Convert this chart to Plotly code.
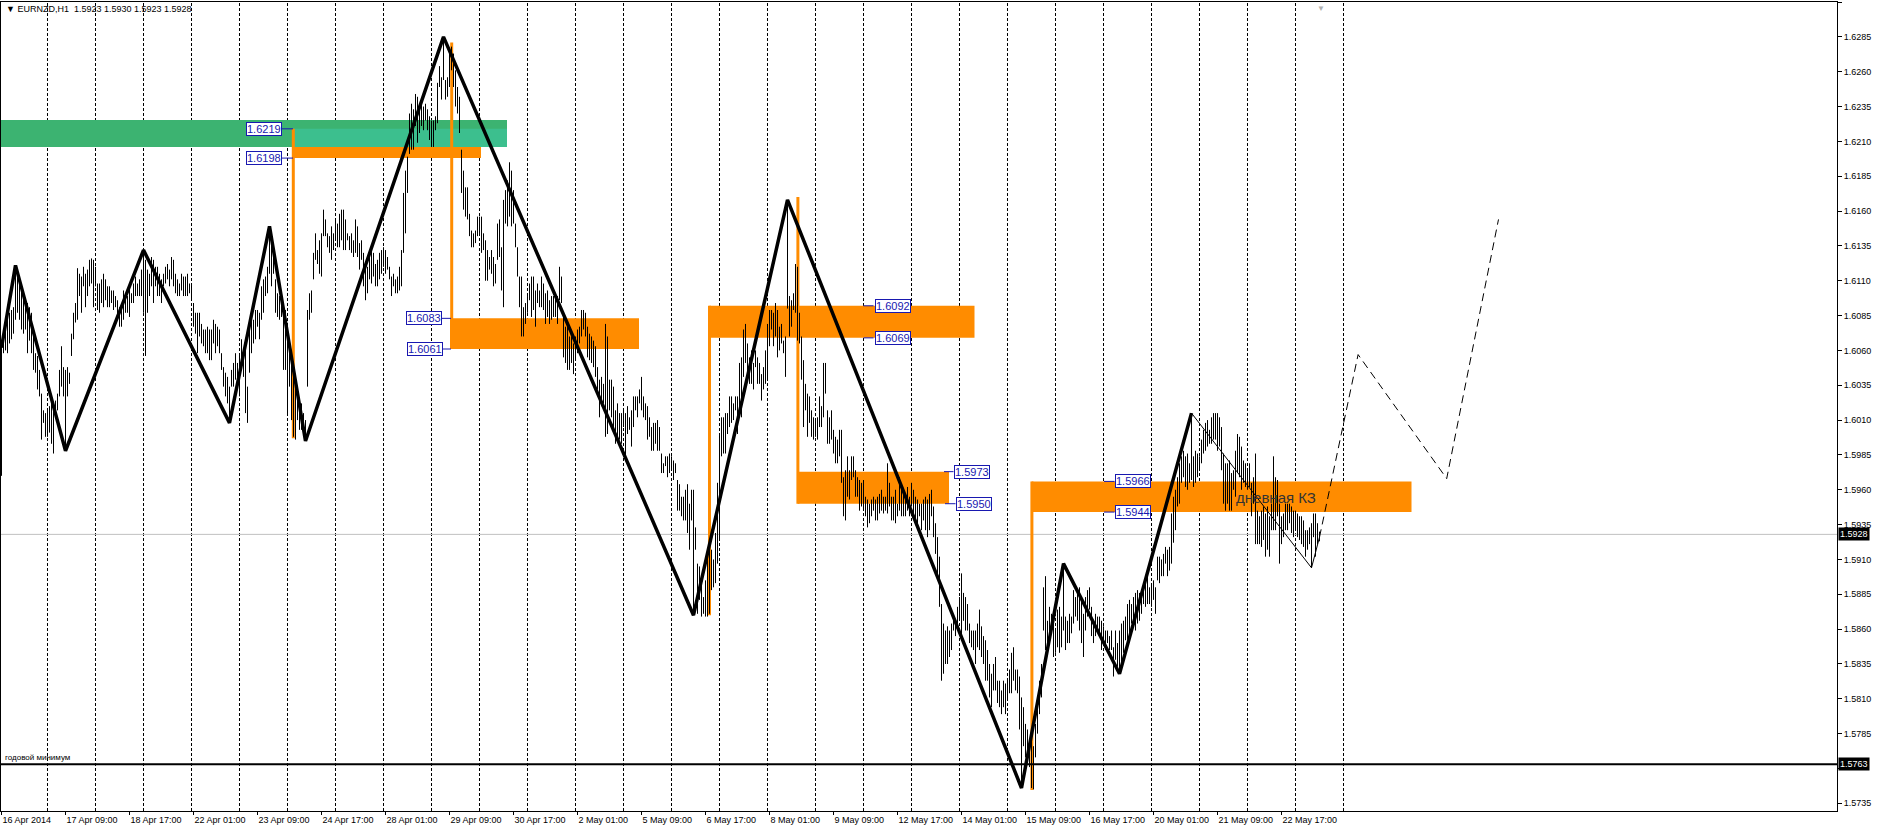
import plotly.graph_objects as go

# ---------------- data (prices in 1e-4 units) ----------------
highs = [
16066,16072,16077,16082,16087,16089,16091,16121,16115,16111,16106,16101,16096,16094,16091,16087,16070,16058,16056,16046,
16029,16017,16015,16017,16020,16022,16022,16024,16029,16046,16063,16048,16046,16048,16044,16072,16087,16094,16119,16115,
16113,16120,16115,16118,16125,16126,16125,16120,16108,16108,16111,16115,16111,16106,16106,16103,16103,16099,16096,16091,
16091,16103,16099,16099,16106,16101,16108,16113,16108,16111,16118,16132,16125,16118,16115,16127,16125,16120,16120,16115,
16111,16115,16120,16122,16118,16127,16125,16115,16111,16108,16115,16113,16113,16115,16108,16108,16094,16087,16087,16087,
16079,16075,16075,16077,16075,16075,16082,16079,16077,16075,16058,16048,16044,16041,16034,16046,16051,16058,16051,16056,
16068,16060,16063,16034,16077,16082,16082,16089,16089,16087,16106,16111,16113,16120,16149,16142,16130,16111,16101,16099,
16094,16091,16089,16068,16058,16051,16046,16034,16034,16022,16022,16015,16010,16089,16101,16103,16130,16144,16132,16139,
16144,16161,16154,16144,16142,16149,16144,16154,16151,16158,16161,16161,16154,16144,16142,16144,16139,16154,16149,16137,
16139,16130,16120,16120,16130,16132,16130,16122,16125,16130,16132,16134,16132,16127,16120,16113,16115,16111,16113,16120,
16132,16173,16189,16199,16230,16237,16233,16244,16242,16235,16237,16235,16237,16233,16228,16225,16225,16228,16252,16264,
16256,16285,16254,16256,16273,16278,16273,16261,16249,16242,16204,16189,16177,16177,16158,16146,16144,16146,16156,16156,
16156,16144,16139,16132,16127,16132,16127,16122,16151,16154,16134,16168,16175,16182,16195,16189,16175,16151,16134,16113,
16113,16091,16094,16099,16108,16113,16113,16103,16108,16103,16113,16108,16101,16103,16096,16099,16099,16101,16099,16120,
16113,16084,16077,16077,16070,16070,16065,16070,16075,16077,16089,16089,16087,16077,16072,16070,16067,16063,16048,16039,
16041,16036,16079,16070,16039,16039,16034,16017,16022,16015,16015,16017,16015,16020,16012,16017,16027,16027,16027,16032,
16041,16027,16022,16020,16012,16005,16008,16008,16010,16005,15986,15979,15984,15984,15986,15984,15981,15979,15967,15964,
15955,15955,15960,15964,15950,15960,15960,15933,15907,15905,15893,15883,15895,15917,15924,15917,15910,15929,15965,16000,
16012,16012,16015,16015,16027,16027,16022,16027,16027,16051,16055,16075,16079,16065,16055,16060,16051,16060,16055,16051,
16043,16048,16060,16079,16089,16089,16087,16094,16089,16077,16079,16067,16070,16168,16099,16096,16101,16122,16120,16087,
16070,16053,16036,16029,16027,16017,16012,16010,16012,16027,16020,16051,16051,16017,16012,16017,16003,15998,15996,16003,
16003,15969,15974,15984,15974,15984,15984,15974,15969,15967,15965,15967,15955,15953,15950,15953,15955,15953,15955,15957,
15960,15955,15955,15979,15965,15955,15955,15960,15950,15969,15962,15960,15955,15962,15955,15965,15960,15955,15953,15950,
15950,15953,15955,15953,15957,15960,15948,15936,15926,15912,15878,15864,15859,15862,15859,15864,15869,15864,15876,15883,
15900,15886,15883,15878,15864,15859,15859,15859,15864,15874,15862,15855,15852,15845,15835,15828,15835,15840,15823,15823,
15816,15823,15821,15823,15831,15843,15847,15831,15831,15826,15811,15804,15792,15788,15778,15780,15776,15792,15811,15823,
15835,15890,15898,15866,15876,15871,15869,15859,15874,15876,15869,15907,15869,15866,15871,15869,15888,15883,15886,15890,
15883,15871,15883,15888,15890,15876,15866,15871,15869,15869,15866,15862,15859,15859,15855,15859,15847,15859,15850,15859,
15864,15866,15869,15878,15881,15878,15883,15886,15888,15886,15888,15893,15895,15898,15890,15893,15895,15890,15912,15912,
15910,15914,15919,15917,15919,15943,15955,15960,15969,15979,15984,15988,15984,15986,15979,16015,15984,15988,15986,15984,
15996,16003,16008,16010,16003,16012,16015,16015,16015,16012,16005,15986,15979,15979,15981,15972,15974,15988,16000,15998,
15991,15981,15979,15974,15979,15965,15969,15986,15945,15941,15945,15948,15943,15948,15941,15950,15984,15969,15967,15950,
15941,15943,15950,15950,15950,15948,15945,15945,15943,15941,15941,15938,15931,15931,15933,15936,15943,15943,15936,15930,
]
lows = [
15970,16058,16060,16058,16065,16068,16072,16082,16087,16082,16075,16072,16075,16058,16067,16058,16046,16044,16032,16027,
15996,16008,15998,15998,16001,15993,15986,16012,16017,16027,16034,16027,15988,16027,16036,16056,16068,16080,16082,16099,
16087,16106,16091,16099,16106,16108,16091,16106,16089,16087,16094,16091,16096,16091,16091,16094,16089,16091,16084,16077,
16077,16082,16087,16087,16084,16094,16094,16099,16099,16099,16099,16087,16056,16087,16099,16106,16094,16106,16099,16099,
16094,16106,16108,16111,16106,16111,16106,16101,16099,16099,16103,16099,16099,16099,16101,16096,16077,16072,16058,16070,
16065,16063,16058,16058,16053,16053,16065,16058,16063,16058,16046,16034,16027,16022,16008,16034,16034,16039,16034,16027,
16046,16041,16015,16008,16044,16058,16065,16068,16077,16068,16082,16087,16099,16101,16115,16106,16115,16087,16084,16082,
16084,16046,16046,16015,16034,16010,15998,15996,16010,16003,16003,15998,15995,16034,16082,16087,16111,16125,16122,16115,
16113,16142,16142,16134,16130,16125,16132,16139,16134,16134,16139,16132,16132,16139,16132,16130,16127,16130,16127,16118,
16125,16106,16096,16101,16111,16108,16113,16106,16106,16111,16115,16120,16115,16118,16111,16099,16106,16101,16101,16103,
16106,16130,16144,16173,16201,16204,16204,16221,16209,16216,16221,16218,16225,16218,16211,16206,16206,16218,16223,16249,
16240,16254,16240,16242,16249,16261,16249,16235,16230,16216,16173,16161,16156,16154,16142,16134,16134,16137,16142,16144,
16130,16132,16110,16110,16118,16115,16106,16108,16125,16127,16103,16091,16151,16149,16156,16149,16151,16134,16113,16091,
16070,16070,16079,16087,16096,16084,16089,16077,16094,16091,16091,16089,16079,16084,16079,16082,16084,16084,16079,16096,
16094,16055,16051,16046,16046,16051,16043,16053,16058,16065,16070,16075,16070,16055,16053,16051,16048,16041,16032,16012,
16020,16022,15998,16000,16017,16012,16003,15993,15998,15996,15993,16005,15984,16000,16003,15991,16005,16017,16012,16022,
16017,16012,16010,15996,15998,15988,15988,15993,15988,15988,15972,15972,15977,15969,15972,15974,15967,15972,15945,15945,
15941,15938,15938,15929,15917,15938,15870,15917,15871,15881,15869,15871,15869,15869,15871,15888,15890,15893,15907,15924,
15984,15986,15986,16000,16005,16008,16010,16017,16000,16012,16012,16041,16051,16041,16036,16036,16032,16048,16036,16036,
16024,16032,16036,16039,16063,16075,16063,16070,16055,16060,16065,16058,16041,16090,16070,16077,16089,16087,16067,16065,
16039,16005,16017,15998,16008,15998,15996,15998,15996,16005,16005,16012,16029,15993,15993,15996,15986,15979,15979,15984,
15965,15941,15938,15955,15953,15967,15969,15955,15955,15945,15948,15945,15941,15933,15936,15941,15945,15938,15938,15943,
15945,15943,15945,15943,15948,15938,15938,15936,15941,15945,15941,15941,15941,15945,15941,15948,15941,15936,15936,15941,
15931,15938,15931,15926,15931,15941,15926,15914,15898,15876,15823,15828,15835,15835,15840,15845,15859,15855,15859,15866,
15852,15866,15859,15859,15850,15847,15845,15835,15847,15845,15840,15835,15823,15823,15811,15804,15816,15816,15807,15804,
15799,15804,15799,15809,15814,15814,15823,15816,15814,15788,15746,15776,15768,15764,15761,15746,15745,15768,15785,15799,
15811,15859,15845,15845,15855,15859,15840,15843,15847,15843,15847,15859,15845,15850,15850,15857,15864,15869,15866,15859,
15850,15840,15859,15869,15874,15855,15850,15855,15859,15855,15845,15850,15845,15850,15845,15845,15826,15838,15833,15828,
15835,15843,15852,15852,15855,15864,15864,15859,15864,15866,15871,15878,15876,15878,15878,15876,15881,15871,15895,15893,
15898,15898,15907,15898,15902,15907,15922,15931,15948,15950,15965,15969,15962,15960,15965,15967,15962,15965,15969,15974,
15979,15986,15988,15991,15993,15993,15996,15996,15988,15991,15974,15950,15945,15950,15945,15945,15960,15955,15972,15969,
15960,15965,15962,15960,15962,15941,15950,15921,15921,15921,15919,15924,15912,15917,15912,15931,15931,15931,15941,15907,
15921,15926,15931,15931,15936,15929,15926,15931,15926,15924,15921,15919,15912,15917,15921,15904,15926,15912,15921,15923,
]

# ZigZag vertices (bar index, price)
zz_x = [0, 7, 32, 71, 114, 134, 152, 221, 346, 393, 510, 531, 559, 595]
zz_y = [1.6062, 1.6121, 1.5988, 1.6132, 1.6008, 1.6149, 1.5995, 1.6285, 1.5870, 1.6168, 1.5746, 1.5907, 1.5828, 1.6015]
thin_x = [595, 655, 659]
thin_y = [1.6015, 1.5904, 1.5926]
proj_x = [659, 678.3, 722.6, 748.5]
proj_y = [1.5926, 1.6057, 1.5968, 1.6154]

# zones: (x0, x1, price low, price high)
green_zone = (-1, 252.75, 1.62060, 1.62253)
teal_zone = (145.75, 252.75, 1.62060, 1.6219)
orange_zones = [
    (145.75, 239.75, 1.6198, 1.6206),
    (224.25, 318.75, 1.6061, 1.6083),
    (353.9, 486.5, 1.6069, 1.6092),
    (398.1, 473.75, 1.5950, 1.5973),
    (515.1, 705.0, 1.5944, 1.5966),
]
# orange vertical lines: (x, price top, price bottom)
orange_vlines = [
    (145.9, 1.6219, 1.5997),
    (225.1, 1.6281, 1.6061),
    (354.0, 1.6092, 1.5870),
    (398.2, 1.6170, 1.5950),
    (515.2, 1.5966, 1.57446),
]
# price labels: (text, price, label center bar, line x0, line x1)
price_labels = [
    ("1.6219", 1.6219, 131, 140.25, 145.75),
    ("1.6198", 1.6198, 131, 140.25, 145.75),
    ("1.6083", 1.6083, 211, 219.75, 224.75),
    ("1.6061", 1.6061, 211.5, 220.25, 224.75),
    ("1.6092", 1.6092, 445.5, 431.0, 436.0),
    ("1.6069", 1.6069, 445.5, 431.0, 436.0),
    ("1.5973", 1.5973, 485, 471.25, 476.0),
    ("1.5950", 1.5950, 486, 471.75, 477.0),
    ("1.5966", 1.5966, 565.5, 551.25, 556.5),
    ("1.5944", 1.5944, 565.5, 551.25, 556.5),
]

x_tick_pos = list(range(0, 641, 32))
x_tick_text = ["16 Apr 2014", "17 Apr 09:00", "18 Apr 17:00", "22 Apr 01:00", "23 Apr 09:00",
               "24 Apr 17:00", "28 Apr 01:00", "29 Apr 09:00", "30 Apr 17:00", "2 May 01:00",
               "5 May 09:00", "6 May 17:00", "8 May 01:00", "9 May 09:00", "12 May 17:00",
               "14 May 01:00", "15 May 09:00", "16 May 17:00", "20 May 01:00", "21 May 09:00",
               "22 May 17:00"]
separator_bars = [23 + 24 * k for k in range(28)]
y_ticks = [round(1.5735 + 0.0025 * k, 4) for k in range(24)]

last_price = 1.5928
year_low = 1.5763
title_text = "▼ EURNZD,H1  1.5923 1.5930 1.5923 1.5928"

# ---------------- figure ----------------
FONT = "Liberation Sans, Arial, sans-serif"
ORANGE = "#FF8C00"
BLUE = "#1818B0"

bx, by = [], []
for i, (h, l) in enumerate(zip(highs, lows)):
    bx += [i, i, None]
    by += [l / 10000.0, h / 10000.0, None]

fig = go.Figure()
fig.add_trace(go.Scatter(x=bx, y=by, mode="lines", line=dict(color="black", width=1),
                         hoverinfo="skip", showlegend=False))
fig.add_trace(go.Scatter(x=zz_x, y=zz_y, mode="lines", line=dict(color="black", width=3.5),
                         hoverinfo="skip", showlegend=False))
fig.add_trace(go.Scatter(x=thin_x, y=thin_y, mode="lines", line=dict(color="black", width=1),
                         hoverinfo="skip", showlegend=False))
fig.add_trace(go.Scatter(x=proj_x, y=proj_y, mode="lines",
                         line=dict(color="black", width=1, dash="8px,5px"),
                         hoverinfo="skip", showlegend=False))

shapes = []
x0, x1, p0, p1 = green_zone
shapes.append(dict(type="rect", xref="x", yref="y", x0=x0, x1=x1, y0=p0, y1=p1,
                   fillcolor="#3CB371", line=dict(width=0), layer="below"))
x0, x1, p0, p1 = teal_zone
shapes.append(dict(type="rect", xref="x", yref="y", x0=x0, x1=x1, y0=p0, y1=p1,
                   fillcolor="#3CBF8E", line=dict(width=0), layer="below"))
for (x0, x1, p0, p1) in orange_zones:
    shapes.append(dict(type="rect", xref="x", yref="y", x0=x0, x1=x1, y0=p0, y1=p1,
                       fillcolor=ORANGE, line=dict(width=0), layer="below"))
for (xv, pt, pb) in orange_vlines:
    shapes.append(dict(type="line", xref="x", yref="y", x0=xv, x1=xv, y0=pb, y1=pt,
                       line=dict(color=ORANGE, width=3), layer="below"))
for xs in separator_bars:
    shapes.append(dict(type="line", xref="x", yref="paper", x0=xs, x1=xs, y0=0, y1=1,
                       line=dict(color="black", width=1, dash="3px,2px"), layer="below"))
shapes.append(dict(type="line", xref="paper", yref="y", x0=0, x1=1, y0=last_price, y1=last_price,
                   line=dict(color="#C0C0C0", width=1), layer="below"))
shapes.append(dict(type="line", xref="paper", yref="y", x0=0, x1=1, y0=year_low, y1=year_low,
                   line=dict(color="black", width=2), layer="above"))
for (txt, p, cx, lx0, lx1) in price_labels:
    shapes.append(dict(type="line", xref="x", yref="y", x0=lx0, x1=lx1, y0=p, y1=p,
                       line=dict(color=BLUE, width=1), layer="above"))

annotations = []
for (txt, p, cx, lx0, lx1) in price_labels:
    annotations.append(dict(x=cx, y=p, xref="x", yref="y", text=txt, showarrow=False,
                            font=dict(family=FONT, size=11, color=BLUE),
                            bgcolor="white", bordercolor=BLUE, borderwidth=1, borderpad=0))
annotations.append(dict(x=0, y=1, xref="paper", yref="paper", xanchor="left", yanchor="top",
                        xshift=3, yshift=0, text=title_text, showarrow=False,
                        font=dict(family=FONT, size=9, color="black")))
annotations.append(dict(x=0, y=year_low, xref="paper", yref="y", xanchor="left", yanchor="bottom",
                        xshift=2, yshift=0, text="годовой минимум", showarrow=False,
                        font=dict(family=FONT, size=8, color="black")))
annotations.append(dict(x=637, y=1.59545, xref="x", yref="y", text="дневная КЗ", showarrow=False,
                        font=dict(family=FONT, size=15, color="#333333")))
for p in (last_price, year_low):
    annotations.append(dict(x=1, y=p, xref="paper", yref="y", xanchor="left", yanchor="middle",
                            xshift=1, text=f"{p:.4f}", showarrow=False,
                            font=dict(family=FONT, size=9, color="white"),
                            bgcolor="black", borderpad=1))
annotations.append(dict(x=659.75, y=1, xref="x", yref="paper", yanchor="top", text="▼",
                        showarrow=False, font=dict(family=FONT, size=8, color="#B0B0B0")))

# the year-low marker box hides the 1.5760 axis label in the reference
y_tick_text = ["" if abs(v - 1.5760) < 1e-9 else f"{v:.4f}" for v in y_ticks]

fig.update_layout(
    width=1879, height=829,
    margin=dict(l=1, r=42, t=2, b=18),
    paper_bgcolor="white", plot_bgcolor="white",
    showlegend=False, hovermode=False,
    shapes=shapes, annotations=annotations,
    xaxis=dict(range=[-0.25, 917.75], showgrid=False, zeroline=False,
               showline=True, linecolor="black", linewidth=1, mirror=True,
               tickvals=x_tick_pos, ticktext=x_tick_text, ticks="outside", ticklen=3,
               tickcolor="black", ticklabelposition="outside right",
               tickfont=dict(family=FONT, size=9, color="black")),
    yaxis=dict(range=[1.57295, 1.6310], side="right", showgrid=False, zeroline=False,
               showline=True, linecolor="black", linewidth=1, mirror=True,
               tickvals=y_ticks, ticktext=y_tick_text,
               ticks="outside", ticklen=4, tickcolor="black",
               tickfont=dict(family=FONT, size=9, color="black")),
)

fig.write_html("out.html", config={"displayModeBar": False},
               post_script="document.body.style.margin='0px';document.body.style.overflow='hidden';")
